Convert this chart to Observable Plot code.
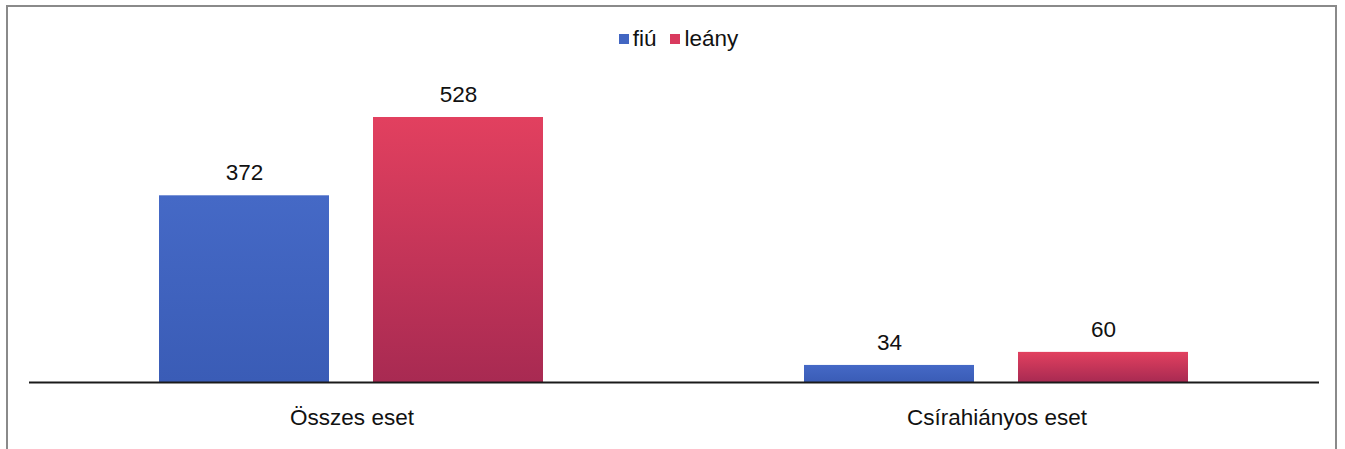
<!DOCTYPE html>
<html>
<head>
<meta charset="utf-8">
<script src="https://cdn.jsdelivr.net/npm/d3@7"></script>
<script src="https://cdn.jsdelivr.net/npm/@observablehq/plot@0.6"></script>
<style>
  html, body { margin: 0; padding: 0; background: #fff; overflow: hidden; }
  #wrap { position: relative; width: 1345px; height: 449px; font-family: "Liberation Sans", Arial, sans-serif; }
  #frame { position: absolute; left: 6px; top: 5px; width: 1331px; height: 480px; border: 2px solid #8a8a8a; box-sizing: border-box; pointer-events: none; }
  #legend { position: absolute; top: 26px; left: 0; width: 1345px; display: flex; justify-content: center; gap: 14px; font-size: 22.5px; color: #111; padding-left: 12px; box-sizing: border-box; }
  #legend span.item { display: inline-flex; align-items: center; gap: 4px; }
  #legend span.sw { display: inline-block; width: 10px; height: 10px; }
  #chart { position: absolute; left: 0; top: 0; }
</style>
</head>
<body>
<div id="wrap">
  <div id="chart"></div>
  <div id="legend"></div>
  <div id="frame"></div>
</div>
<script>
const categories = ["Összes eset", "Csírahiányos eset"];
const series = ["fiú", "leány"];
const fiuValues = [372, 34];
const leanyValues = [528, 60];
const seriesColors = ["#4266c2", "#d93a5e"];

const data = [];
categories.forEach((c, i) => {
  data.push({cat: c, s: series[0], v: fiuValues[i]});
  data.push({cat: c, s: series[1], v: leanyValues[i]});
});

const plot = Plot.plot({
  width: 1345,
  height: 449,
  marginTop: 117,
  marginBottom: 67,
  marginLeft: 28,
  marginRight: 26,
  style: {fontSize: "22.5px", fontFamily: "'Liberation Sans', Arial, sans-serif", color: "#111", background: "transparent"},
  fx: {domain: categories, padding: 0, axis: "bottom", tickSize: 0, tickPadding: 27, label: null},
  x: {domain: series, paddingInner: 0.205, paddingOuter: 0.604, axis: null},
  y: {domain: [0, 528], axis: null},
  marks: [
    Plot.barY(data.filter(d => d.s === series[0]), {fx: "cat", x: "s", y: "v", fill: "url(#gradBlue)"}),
    Plot.barY(data.filter(d => d.s === series[1]), {fx: "cat", x: "s", y: "v", fill: "url(#gradRed)"}),
    Plot.ruleY([0], {stroke: "#1a1a1a", strokeWidth: 2}),
    Plot.text(data, {fx: "cat", x: "s", y: "v", text: d => String(d.v), dy: -23, fill: "#111"})
  ]
});

const ns = "http://www.w3.org/2000/svg";
const defs = document.createElementNS(ns, "defs");
function grad(id, top, bottom) {
  const g = document.createElementNS(ns, "linearGradient");
  g.setAttribute("id", id);
  g.setAttribute("x1", "0"); g.setAttribute("y1", "0");
  g.setAttribute("x2", "0"); g.setAttribute("y2", "1");
  [[0, top], [1, bottom]].forEach(([o, c]) => {
    const st = document.createElementNS(ns, "stop");
    st.setAttribute("offset", o);
    st.setAttribute("stop-color", c);
    g.appendChild(st);
  });
  defs.appendChild(g);
}
grad("gradBlue", "#4569c6", "#3a5cb6");
grad("gradRed", "#e2405f", "#a82a52");
plot.insertBefore(defs, plot.firstChild);
document.getElementById("chart").appendChild(plot);

const legend = document.getElementById("legend");
series.forEach((s, i) => {
  const item = document.createElement("span");
  item.className = "item";
  const sw = document.createElement("span");
  sw.className = "sw";
  sw.style.background = seriesColors[i];
  item.appendChild(sw);
  item.appendChild(document.createTextNode(s));
  legend.appendChild(item);
});
</script>
</body>
</html>
